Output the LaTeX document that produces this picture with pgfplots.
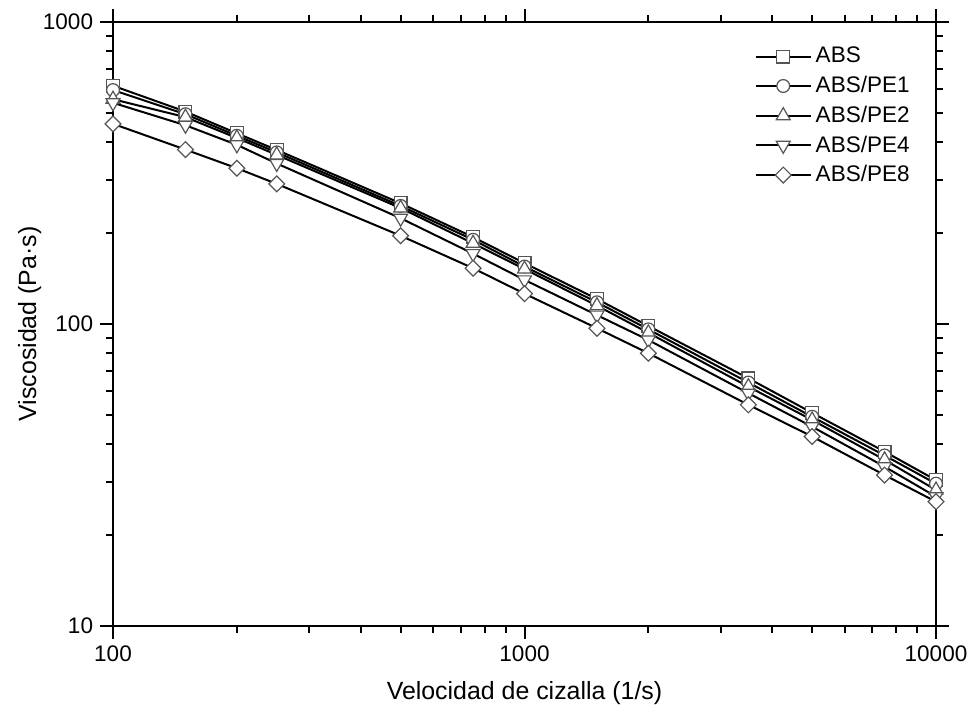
\documentclass[border=0pt]{standalone}
\usepackage{pgfplots}
\pgfplotsset{compat=1.18}
\usepackage{fontspec}
\setmainfont{Liberation Sans}
\definecolor{mk}{HTML}{555555}
\begin{document}
\begin{tikzpicture}
\useasboundingbox (-56.5bp,-46bp) rectangle (429bp,313bp);
\begin{axis}[
  scale only axis,
  width=411.5bp, height=302bp,
  xmode=log, ymode=log,
  xmin=100, xmax=10000, ymin=10, ymax=1000,
  xtick={100,1000,10000}, xticklabels={100,1000,10000},
  ytick={10,100,1000}, yticklabels={10,100,1000},
  tick align=outside,
  major tick length=6.5bp, minor tick length=3.5bp,
  every tick/.style={black, line width=1bp},
  axis line style={line width=1bp},
  /pgf/number format/assume math mode=true,
  tick label style={font=\fontsize{11.3}{13}\selectfont},
  label style={font=\fontsize{12.5}{15}\selectfont},
  xlabel={Velocidad de cizalla (1/s)},
  ylabel={Viscosidad (Pa·s)},
  xlabel style={yshift=-3bp},
  ylabel style={yshift=-6bp},
  legend style={at={(0.772,0.972)}, anchor=north west, draw=none, fill=none,
     font=\fontsize{11.3}{13}\selectfont, row sep=1.2bp},
  legend cell align=left,
  legend image code/.code={\draw[mark repeat=2,mark phase=2] plot coordinates {(0bp,0bp) (13.75bp,0bp) (27.5bp,0bp)};},
  mystyle/.style={black, line width=1bp, mark size=3.2bp},
  mo/.style={mark options={fill=white, draw=mk, line width=0.6bp, solid, #1}},
  mo/.default={},
]
\addplot[mystyle, mark=square*, mo] coordinates {(100,615) (150,505) (200,428) (250,377) (500,251) (750,194) (1000,159) (1500,121) (2000,98.5) (3500,66.1) (5000,50.8) (7500,37.8) (10000,30.4)};
\addlegendentry{ABS}
\addplot[mystyle, mark=*, mo] coordinates {(100,595) (150,495) (200,420) (250,370) (500,246) (750,190) (1000,155) (1500,118) (2000,96) (3500,64) (5000,49.3) (7500,36.7) (10000,29.6)};
\addlegendentry{ABS/PE1}
\addplot[mystyle, mark=triangle*, mark size=4bp, mo] coordinates {(100,555) (150,484) (200,413) (250,363) (500,242) (750,185) (1000,152) (1500,115) (2000,93.5) (3500,62) (5000,48.1) (7500,35.5) (10000,28.2)};
\addlegendentry{ABS/PE2}
\addplot[mystyle, mark=triangle*, mark size=4bp, mo={rotate=180}] coordinates {(100,540) (150,455) (200,392) (250,340) (500,224) (750,171) (1000,140) (1500,107) (2000,88.5) (3500,59) (5000,45.7) (7500,33.7) (10000,26.8)};
\addlegendentry{ABS/PE4}
\addplot[mystyle, mark=square*, mark size=2.8bp, mo={rotate=45}] coordinates {(100,460) (150,378) (200,328) (250,291) (500,196) (750,153) (1000,126) (1500,96.8) (2000,80) (3500,54) (5000,42.4) (7500,31.6) (10000,25.8)};
\addlegendentry{ABS/PE8}
\end{axis}
\end{tikzpicture}
\end{document}
